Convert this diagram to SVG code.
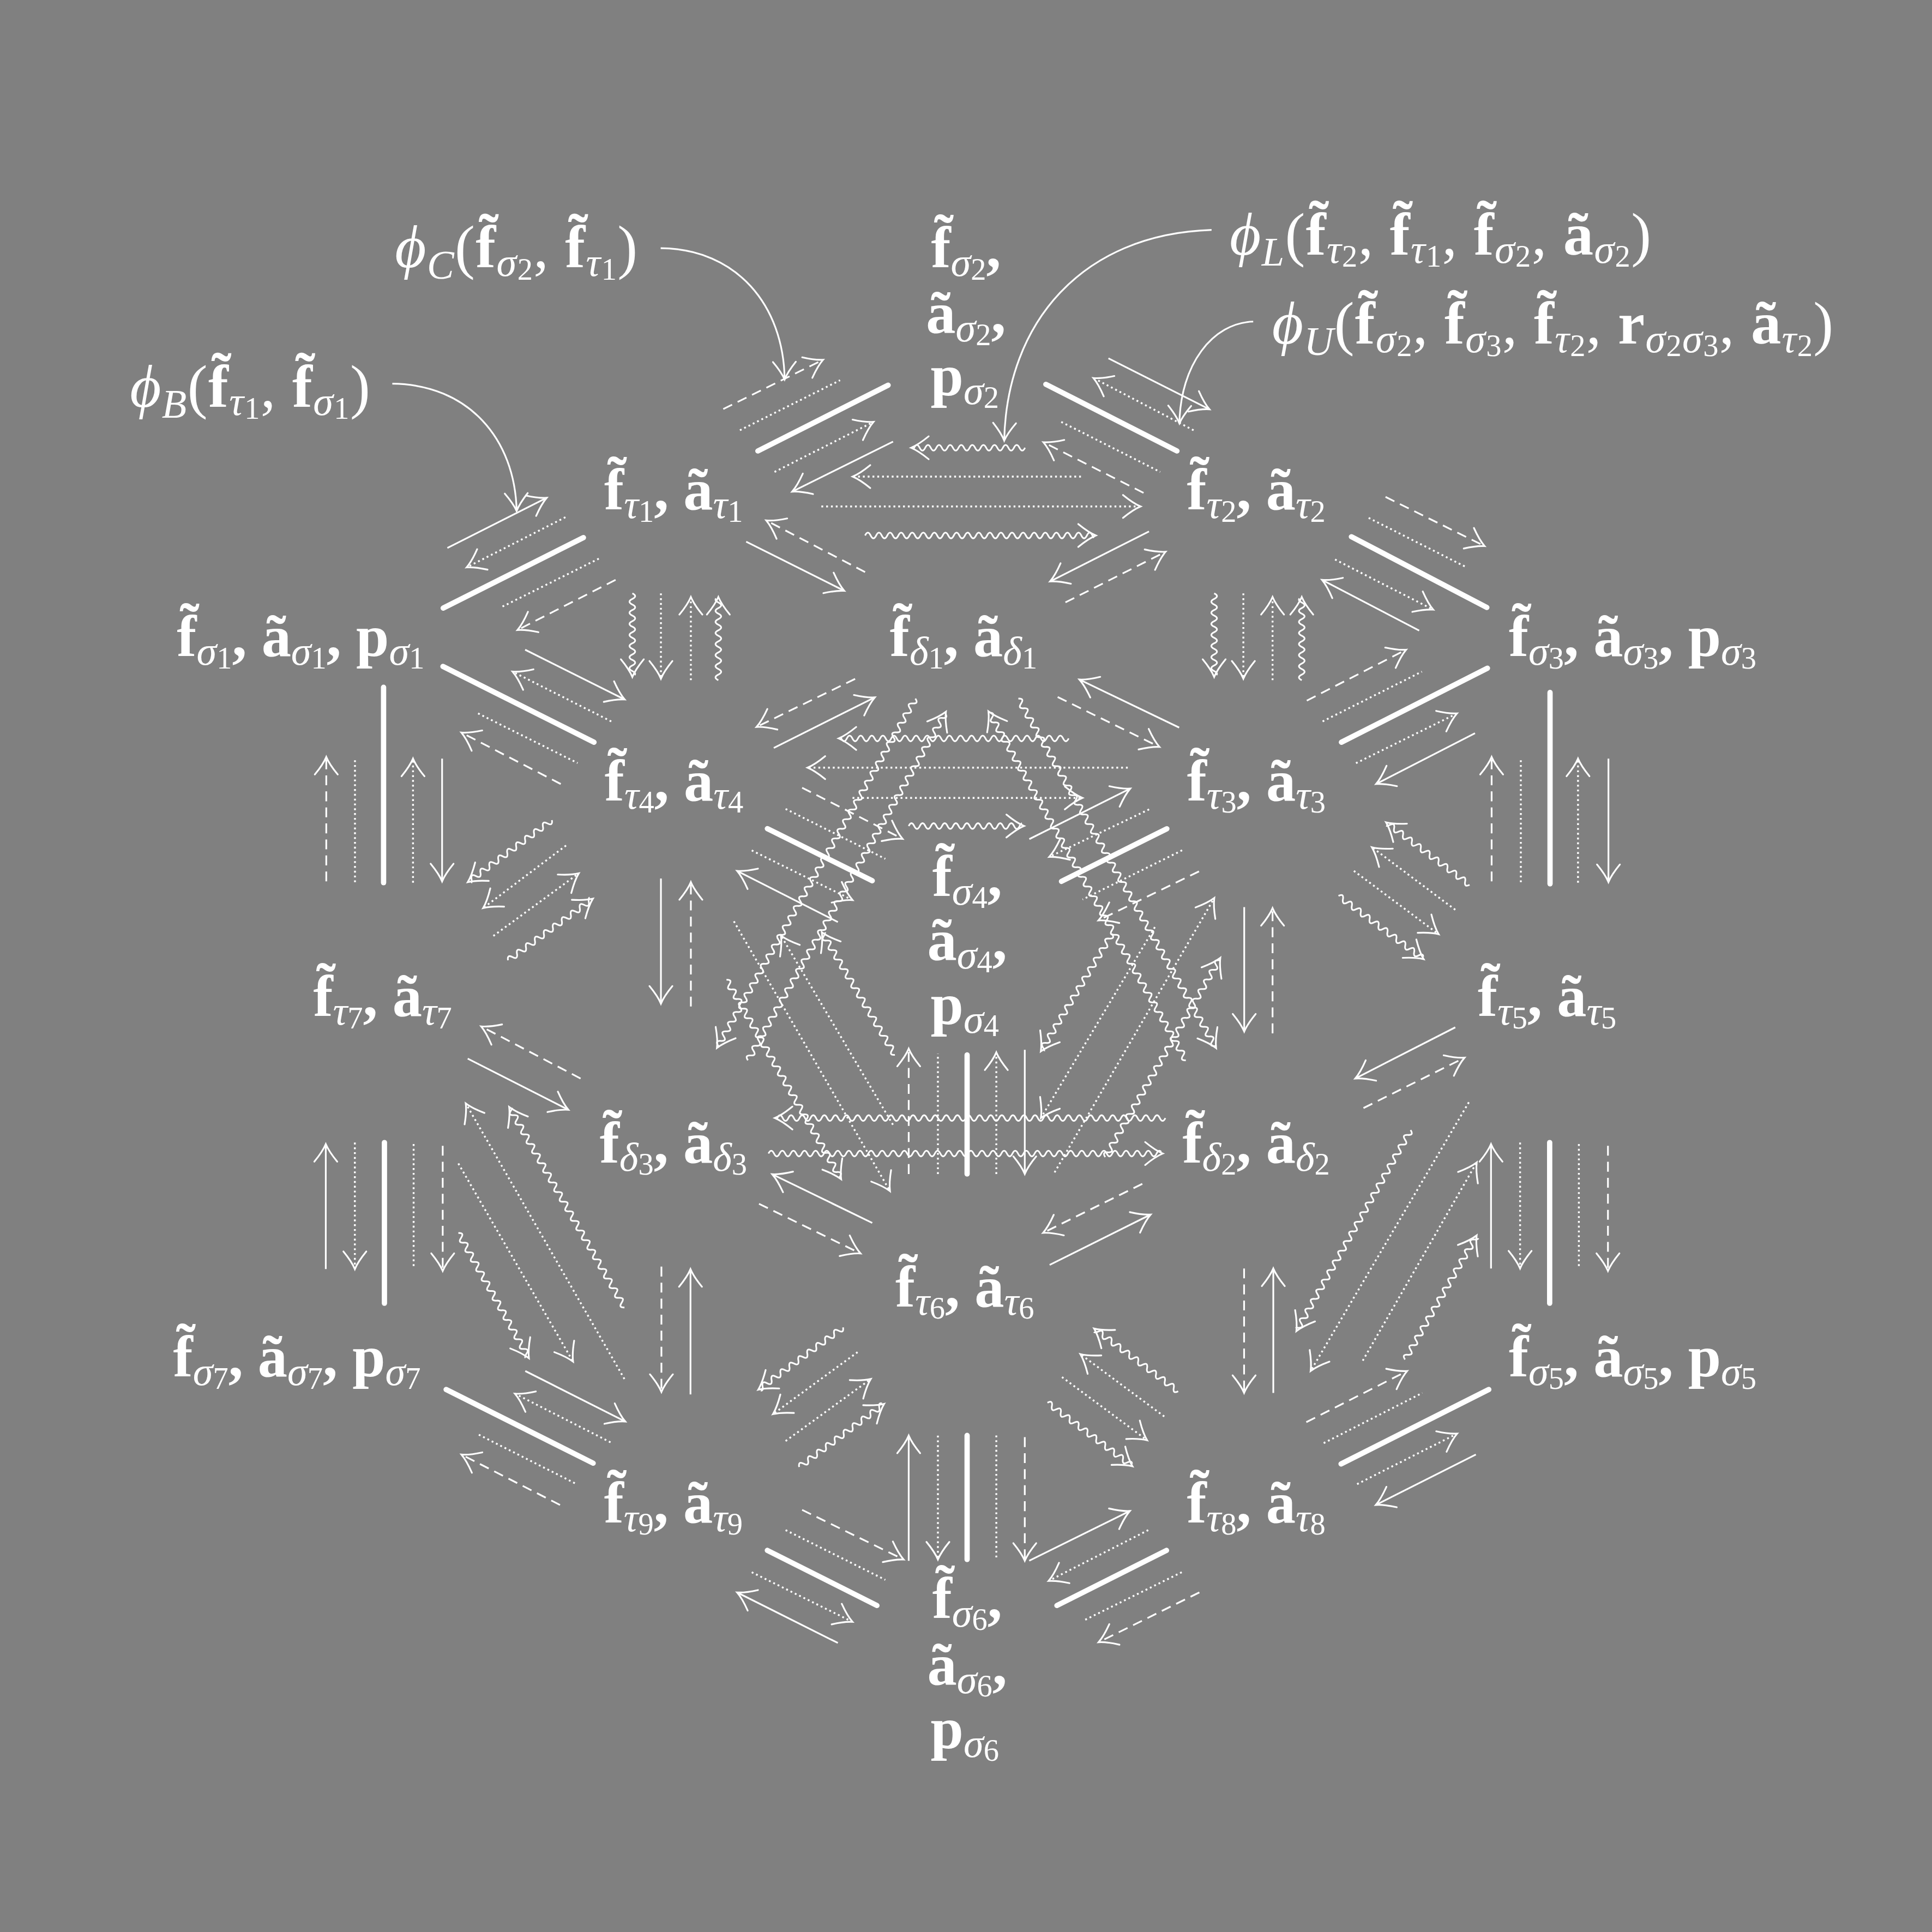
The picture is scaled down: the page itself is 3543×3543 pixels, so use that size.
<svg xmlns="http://www.w3.org/2000/svg" width="3543" height="3543" viewBox="0 0 3543 3543">
<style>
line,.cv{fill:none;stroke:#fff}
.s,.sa{stroke-width:1.4}
.d,.da{stroke-width:1.4;stroke-dasharray:8 5}
.o,.oa{stroke-width:1.5;stroke-dasharray:1.5 2.4}
.t{stroke-width:4.3;stroke-linecap:round}
.cv{stroke-width:1.4}
.sa,.da,.oa,.cv{marker-end:url(#ah)}
text{fill:#fff;font-family:"Liberation Serif","DejaVu Serif",serif}
.lb{font-weight:bold;font-size:48px;text-anchor:middle}
.ph{font-weight:normal;font-size:49px;letter-spacing:0.6px}
.bf{font-weight:bold}
.it{font-style:italic}
.sb{font-weight:normal;font-style:italic;font-size:33px}
.ss{font-weight:normal;font-style:normal;font-size:25px}
</style>
<defs>
<marker id="ah" markerUnits="userSpaceOnUse" orient="auto" overflow="visible" markerWidth="20" markerHeight="20" viewBox="-16 -10 20 20" refX="0" refY="0"><path d="M-14.3,-9.3 Q-6,-2.5 0,0 Q-6,2.5 -14.3,9.3" fill="none" stroke="#fff" stroke-width="1.4" stroke-linecap="round"/></marker>
<path id="hd" d="M-14.3,-9.3 Q-6,-2.5 0,0 Q-6,2.5 -14.3,9.3" fill="none" stroke="#fff" stroke-width="1.4" stroke-linecap="round"/>
<path id="wv" pathLength="342" fill="none" stroke="#fff" stroke-width="1.35" d="M0,0q2.25,-4.6 4.5,0t4.5,0t4.5,0t4.5,0t4.5,0t4.5,0t4.5,0t4.5,0t4.5,0t4.5,0t4.5,0t4.5,0t4.5,0t4.5,0t4.5,0t4.5,0t4.5,0t4.5,0t4.5,0t4.5,0t4.5,0t4.5,0t4.5,0t4.5,0t4.5,0t4.5,0t4.5,0t4.5,0t4.5,0t4.5,0t4.5,0t4.5,0t4.5,0t4.5,0t4.5,0t4.5,0t4.5,0t4.5,0t4.5,0t4.5,0t4.5,0t4.5,0t4.5,0t4.5,0t4.5,0t4.5,0t4.5,0t4.5,0t4.5,0t4.5,0t4.5,0t4.5,0t4.5,0t4.5,0t4.5,0t4.5,0t4.5,0t4.5,0t4.5,0t4.5,0t4.5,0t4.5,0t4.5,0t4.5,0t4.5,0t4.5,0t4.5,0t4.5,0t4.5,0t4.5,0t4.5,0t4.5,0t4.5,0t4.5,0t4.5,0t4.5,0"/>
</defs>
<rect width="3543" height="3543" fill="#808080"/>
<g transform="scale(2.25957)">
<g id="connectors">
<line class="da" x1="587" y1="332" x2="668" y2="292"/>
<line class="o" x1="600.5" y1="349.2" x2="681.8" y2="308.6"/>
<line class="t" x1="615.1" y1="366" x2="720.8" y2="312.6"/>
<line class="oa" x1="628.6" y1="383" x2="708.9" y2="342.4"/>
<line class="sa" x1="724.8" y1="358.4" x2="642.9" y2="399"/>
<line class="sa" x1="899.6" y1="290.8" x2="981.6" y2="332.2"/>
<line class="oa" x1="968.7" y1="349.2" x2="887.4" y2="306.8"/>
<line class="t" x1="848.8" y1="311.9" x2="955.2" y2="366"/>
<line class="o" x1="861.3" y1="342.4" x2="941.6" y2="383"/>
<line class="da" x1="928.1" y1="400" x2="846.8" y2="358.9"/>
<line class="oa" x1="877.3" y1="386.8" x2="692" y2="386.8"/>
<line class="oa" x1="666.6" y1="411" x2="925.7" y2="411"/>
<line class="da" x1="702.1" y1="464.3" x2="621.9" y2="422.4"/>
<line class="sa" x1="605.6" y1="439.6" x2="685.2" y2="479.5"/>
<line class="sa" x1="932.5" y1="431.3" x2="852.2" y2="471.9"/>
<line class="da" x1="864.7" y1="488.9" x2="946" y2="447.8"/>
<line class="sa" x1="363.1" y1="444.7" x2="443.7" y2="404"/>
<line class="oa" x1="458.9" y1="419.8" x2="378.7" y2="460.5"/>
<line class="t" x1="473.5" y1="436.3" x2="359.7" y2="493.5"/>
<line class="o" x1="486" y1="453.4" x2="406.4" y2="493"/>
<line class="da" x1="499.6" y1="470.6" x2="420" y2="511.3"/>
<line class="t" x1="359.5" y1="540.9" x2="482.1" y2="602.4"/>
<line class="oa" x1="496.1" y1="585.5" x2="416" y2="545.1"/>
<line class="sa" x1="426.2" y1="527.3" x2="507" y2="567.7"/>
<line class="o" x1="388" y1="579" x2="468.8" y2="619.3"/>
<line class="da" x1="455.1" y1="636.3" x2="374.4" y2="594.5"/>
<line class="oa" x1="536.4" y1="481.6" x2="536.4" y2="550.8"/>
<line class="oa" x1="560.7" y1="552" x2="560.7" y2="484.5"/>
<line class="oa" x1="1009.1" y1="481.6" x2="1009.1" y2="550.8"/>
<line class="oa" x1="1032.8" y1="552" x2="1032.8" y2="484.5"/>
<line class="da" x1="1124.5" y1="403.3" x2="1204.9" y2="443.2"/>
<line class="o" x1="1110.8" y1="420.3" x2="1190.4" y2="460.5"/>
<line class="t" x1="1096.8" y1="435.6" x2="1206.7" y2="493"/>
<line class="oa" x1="1083.5" y1="454.1" x2="1163.2" y2="494.8"/>
<line class="sa" x1="1151.8" y1="511.8" x2="1072.9" y2="470.6"/>
<line class="da" x1="1060.6" y1="568.6" x2="1141.2" y2="527.3"/>
<line class="o" x1="1073.4" y1="585.5" x2="1154" y2="545.1"/>
<line class="t" x1="1088.7" y1="602.4" x2="1207.2" y2="542.3"/>
<line class="oa" x1="1100.5" y1="619.4" x2="1182.5" y2="579"/>
<line class="sa" x1="1197.1" y1="595.1" x2="1116.8" y2="636.3"/>
<line class="da" x1="264.8" y1="715.3" x2="264.8" y2="614.3"/>
<line class="o" x1="288.1" y1="716" x2="288.1" y2="615"/>
<line class="t" x1="311.3" y1="557.8" x2="311.3" y2="716.4"/>
<line class="oa" x1="335.2" y1="716.4" x2="335.2" y2="615.7"/>
<line class="sa" x1="358.8" y1="615.7" x2="358.8" y2="715.3"/>
<line class="da" x1="1210.6" y1="715.3" x2="1210.6" y2="614.3"/>
<line class="o" x1="1234.3" y1="716" x2="1234.3" y2="615"/>
<line class="t" x1="1258" y1="562" x2="1258" y2="717.3"/>
<line class="oa" x1="1280.7" y1="716.4" x2="1280.7" y2="615.7"/>
<line class="sa" x1="1305.4" y1="615.7" x2="1305.4" y2="715.9"/>
<line class="oa" x1="459.4" y1="686.2" x2="392.1" y2="737"/>
<line class="oa" x1="400.4" y1="759.6" x2="469.7" y2="708.8"/>
<line class="oa" x1="1181.1" y1="738.4" x2="1113.4" y2="687.6"/>
<line class="oa" x1="1098.8" y1="706.8" x2="1167.6" y2="758.2"/>
<line class="sa" x1="536.4" y1="713" x2="536.4" y2="814.6"/>
<line class="da" x1="560.7" y1="816.9" x2="560.7" y2="715.9"/>
<line class="sa" x1="1009.8" y1="736.2" x2="1009.8" y2="837.2"/>
<line class="da" x1="1032.8" y1="838.6" x2="1032.8" y2="737"/>
<line class="sa" x1="1181.1" y1="833.8" x2="1099.9" y2="875.3"/>
<line class="da" x1="1106.6" y1="899.3" x2="1188.6" y2="858.4"/>
<line class="da" x1="471.2" y1="875.3" x2="390.5" y2="833"/>
<line class="sa" x1="379.6" y1="859.2" x2="461.3" y2="900.7"/>
<line class="sa" x1="264.4" y1="1030" x2="264.4" y2="928.5"/>
<line class="oa" x1="288" y1="927.3" x2="288" y2="1030"/>
<line class="t" x1="312" y1="927.3" x2="312" y2="1057.7"/>
<line class="o" x1="335.7" y1="928.5" x2="335.7" y2="1029.5"/>
<line class="da" x1="359.3" y1="929.9" x2="359.3" y2="1031.5"/>
<line class="sa" x1="1210.1" y1="1029.5" x2="1210.1" y2="928.5"/>
<line class="oa" x1="1233.7" y1="927.3" x2="1233.7" y2="1029.5"/>
<line class="t" x1="1257.7" y1="927.3" x2="1257.7" y2="1057.7"/>
<line class="o" x1="1281.4" y1="928.5" x2="1281.4" y2="1029.5"/>
<line class="da" x1="1305" y1="929.9" x2="1305" y2="1031.5"/>
<line class="oa" x1="506.8" y1="1119.2" x2="378" y2="895.5"/>
<line class="oa" x1="372" y1="944.3" x2="465.1" y2="1105.1"/>
<line class="oa" x1="1192.1" y1="894.6" x2="1063.7" y2="1112.7"/>
<line class="oa" x1="1106" y1="1104.3" x2="1198.5" y2="943.4"/>
<line class="da" x1="536.8" y1="1028" x2="536.8" y2="1129.7"/>
<line class="sa" x1="560.4" y1="1131.7" x2="560.4" y2="1030"/>
<line class="da" x1="1009.7" y1="1029.5" x2="1009.7" y2="1130.5"/>
<line class="sa" x1="1033.4" y1="1130.5" x2="1033.4" y2="1029.5"/>
<line class="sa" x1="426.3" y1="1112.7" x2="507.5" y2="1153.7"/>
<line class="oa" x1="495.5" y1="1170.6" x2="417.9" y2="1131.1"/>
<line class="t" x1="362.1" y1="1127.7" x2="481.4" y2="1187.5"/>
<line class="o" x1="388.6" y1="1164.4" x2="468" y2="1204.5"/>
<line class="da" x1="454.5" y1="1221.4" x2="374.5" y2="1180.5"/>
<line class="da" x1="1060.2" y1="1154.2" x2="1142" y2="1112.7"/>
<line class="o" x1="1074.3" y1="1171.2" x2="1154.4" y2="1130.5"/>
<line class="t" x1="1088.4" y1="1188.1" x2="1208.3" y2="1127.7"/>
<line class="oa" x1="1101.4" y1="1204.5" x2="1182.6" y2="1163.5"/>
<line class="sa" x1="1197.8" y1="1180.5" x2="1116.6" y2="1221.4"/>
<line class="sa" x1="707.9" y1="992.5" x2="626.7" y2="953"/>
<line class="da" x1="616" y1="977" x2="698.4" y2="1017.3"/>
<line class="da" x1="927.1" y1="960.8" x2="846.5" y2="1000.6"/>
<line class="sa" x1="851.9" y1="1026.6" x2="933.9" y2="985.7"/>
<line class="oa" x1="696" y1="1097.4" x2="627.3" y2="1147.7"/>
<line class="oa" x1="637.6" y1="1169.5" x2="706.7" y2="1119.2"/>
<line class="oa" x1="944.9" y1="1149.6" x2="876.8" y2="1099"/>
<line class="oa" x1="861.9" y1="1117.6" x2="931" y2="1168.9"/>
<line class="sa" x1="737.5" y1="1266.7" x2="737.5" y2="1165.1"/>
<line class="oa" x1="761.2" y1="1165.1" x2="761.2" y2="1265.7"/>
<line class="t" x1="784.9" y1="1165" x2="784.9" y2="1265.7"/>
<line class="o" x1="808.6" y1="1165" x2="808.6" y2="1265.7"/>
<line class="da" x1="831.7" y1="1166.4" x2="831.7" y2="1266.7"/>
<line class="da" x1="651" y1="1225.4" x2="733.4" y2="1265.7"/>
<line class="o" x1="637.6" y1="1241.8" x2="718.5" y2="1282.2"/>
<line class="t" x1="622.8" y1="1258.3" x2="711.7" y2="1303"/>
<line class="oa" x1="610.1" y1="1276" x2="691.9" y2="1316.3"/>
<line class="sa" x1="680" y1="1333.4" x2="598.2" y2="1292.4"/>
<line class="sa" x1="835.3" y1="1266.7" x2="917" y2="1226.3"/>
<line class="oa" x1="931.9" y1="1241.8" x2="851" y2="1283.1"/>
<line class="t" x1="946.7" y1="1258.3" x2="857.8" y2="1303"/>
<line class="o" x1="959.1" y1="1276" x2="879.1" y2="1315.4"/>
<line class="da" x1="973.4" y1="1292.4" x2="891.6" y2="1332.8"/>
<line class="da" x1="694" y1="551" x2="614" y2="590"/>
<line class="sa" x1="628" y1="607" x2="710" y2="566"/>
<line class="sa" x1="957" y1="590.5" x2="876" y2="551.5"/>
<line class="da" x1="858.4" y1="565.7" x2="941" y2="606.2"/>
<line class="oa" x1="915.3" y1="623" x2="655.4" y2="623"/>
<line class="oa" x1="691.9" y1="647.6" x2="878.5" y2="647.6"/>
<line class="da" x1="651" y1="639.3" x2="732.5" y2="680.8"/>
<line class="o" x1="637.6" y1="656.5" x2="718.5" y2="697"/>
<line class="t" x1="622.8" y1="672.5" x2="707.9" y2="714.8"/>
<line class="oa" x1="610.1" y1="690.2" x2="691.9" y2="730.5"/>
<line class="sa" x1="680" y1="748.3" x2="598.2" y2="706.8"/>
<line class="sa" x1="835.4" y1="681" x2="917.3" y2="640"/>
<line class="oa" x1="932.6" y1="656.9" x2="851.5" y2="695.5"/>
<line class="t" x1="947" y1="672.6" x2="861.5" y2="715.3"/>
<line class="o" x1="959.4" y1="690.1" x2="878.6" y2="730"/>
<line class="da" x1="973.1" y1="707.2" x2="891.5" y2="747"/>
<line class="oa" x1="595.6" y1="747.7" x2="722.3" y2="966.7"/>
<line class="oa" x1="724.7" y1="912.8" x2="633.8" y2="759.3"/>
<line class="oa" x1="937.3" y1="752.4" x2="844.8" y2="907.3"/>
<line class="oa" x1="855.9" y1="951.5" x2="985.5" y2="728.8"/>
<line class="da" x1="737.5" y1="952.8" x2="737.5" y2="851.1"/>
<line class="o" x1="761.2" y1="952.8" x2="761.2" y2="855"/>
<line class="t" x1="784.9" y1="952.8" x2="784.9" y2="856.2"/>
<line class="oa" x1="808.6" y1="952.8" x2="808.6" y2="854.1"/>
<line class="sa" x1="831.7" y1="852" x2="831.7" y2="952.8"/>
<path class="cv" d="M536.2,201.4 C598,202 636,248 636.8,308"/>
<path class="cv" d="M318.4,311.4 C380,312 418,356 419.3,414.7"/>
<path class="cv" d="M983.3,186.6 C878,190 817,262 815,357.6"/>
<path class="cv" d="M1017.1,261 C984,262 958,296 957.2,343.6"/>
<g transform="translate(831.9 363.4) rotate(180)"><use href="#wv" style="stroke-dasharray:91 999"/><use href="#hd" x="92.5"/></g>
<g transform="translate(702.1 434.6)"><use href="#wv" style="stroke-dasharray:186 999"/><use href="#hd" x="187.3"/></g>
<g transform="translate(513.2 481.6) rotate(90)"><use href="#wv" style="stroke-dasharray:66 999"/><use href="#hd" x="67.8"/></g>
<g transform="translate(583 552) rotate(-90)"><use href="#wv" style="stroke-dasharray:66 999"/><use href="#hd" x="67.5"/></g>
<g transform="translate(985.4 481.6) rotate(90)"><use href="#wv" style="stroke-dasharray:66 999"/><use href="#hd" x="67.8"/></g>
<g transform="translate(1056.5 552) rotate(-90)"><use href="#wv" style="stroke-dasharray:66 999"/><use href="#hd" x="67.5"/></g>
<g transform="translate(447.9 665.6) rotate(143.6)"><use href="#wv" style="stroke-dasharray:83 999"/><use href="#hd" x="84.8"/></g>
<g transform="translate(412.3 779.4) rotate(-36)"><use href="#wv" style="stroke-dasharray:83.5 999"/><use href="#hd" x="85.1"/></g>
<g transform="translate(1192.7 718.1) rotate(-143.2)"><use href="#wv" style="stroke-dasharray:83 999"/><use href="#hd" x="84.7"/></g>
<g transform="translate(1086.3 727.1) rotate(36.6)"><use href="#wv" style="stroke-dasharray:84.5 999"/><use href="#hd" x="86.1"/></g>
<g transform="translate(867.3 599.3) rotate(180)"><use href="#wv" style="stroke-dasharray:185 999"/><use href="#hd" x="186.7"/></g>
<g transform="translate(737.5 670.4)"><use href="#wv" style="stroke-dasharray:92 999"/><use href="#hd" x="93.6"/></g>
<g transform="translate(742.9 567) rotate(119.6)"><use href="#wv" style="stroke-dasharray:324.5 999"/><use href="#hd" x="326"/></g>
<g transform="translate(607 860.5) rotate(-60.4)"><use href="#wv" style="stroke-dasharray:323.5 999"/><use href="#hd" x="325.3"/></g>
<g transform="translate(826.5 567) rotate(60.5)"><use href="#wv" style="stroke-dasharray:324.5 999"/><use href="#hd" x="325.9"/></g>
<g transform="translate(962.4 860.5) rotate(-119.5)"><use href="#wv" style="stroke-dasharray:323.5 999"/><use href="#hd" x="325.3"/></g>
<g transform="translate(589.6 795.2) rotate(60.1)"><use href="#wv" style="stroke-dasharray:185 999"/><use href="#hd" x="186.7"/></g>
<g transform="translate(726.3 856.1) rotate(-120.8)"><use href="#wv" style="stroke-dasharray:114.5 999"/><use href="#hd" x="115.9"/></g>
<g transform="translate(902.5 757.9) rotate(121.2)"><use href="#wv" style="stroke-dasharray:110 999"/><use href="#hd" x="111.5"/></g>
<g transform="translate(897 939.1) rotate(-60)"><use href="#wv" style="stroke-dasharray:185 999"/><use href="#hd" x="186.8"/></g>
<g transform="translate(945.8 907.4) rotate(180)"><use href="#wv" style="stroke-dasharray:315.5 999"/><use href="#hd" x="317"/></g>
<g transform="translate(623.7 936.2)"><use href="#wv" style="stroke-dasharray:318.5 999"/><use href="#hd" x="320"/></g>
<g transform="translate(506.8 1061.1) rotate(-119.9)"><use href="#wv" style="stroke-dasharray:186 999"/><use href="#hd" x="187.7"/></g>
<g transform="translate(372 1000.7) rotate(60.6)"><use href="#wv" style="stroke-dasharray:115 999"/><use href="#hd" x="116.6"/></g>
<g transform="translate(1144.8 917.2) rotate(119.6)"><use href="#wv" style="stroke-dasharray:186 999"/><use href="#hd" x="187.6"/></g>
<g transform="translate(1140.3 1103.4) rotate(-60)"><use href="#wv" style="stroke-dasharray:115 999"/><use href="#hd" x="116.3"/></g>
<g transform="translate(684.2 1077.3) rotate(143.7)"><use href="#wv" style="stroke-dasharray:84 999"/><use href="#hd" x="85.4"/></g>
<g transform="translate(648.6 1190.6) rotate(-36.6)"><use href="#wv" style="stroke-dasharray:84.5 999"/><use href="#hd" x="85.9"/></g>
<g transform="translate(956.2 1129.1) rotate(-143.3)"><use href="#wv" style="stroke-dasharray:83.5 999"/><use href="#hd" x="85.1"/></g>
<g transform="translate(850.1 1138.4) rotate(36.8)"><use href="#wv" style="stroke-dasharray:84.5 999"/><use href="#hd" x="86.2"/></g>
</g>
<g id="ann-phiC"><text class="ph" x="518" y="217" text-anchor="end"><tspan class="it">ϕ</tspan><tspan class="sb" dy="9">C</tspan><tspan dy="-9">(</tspan><tspan class="bf">f̃</tspan><tspan class="sb" dy="7">σ</tspan><tspan class="ss" dy="3">2</tspan><tspan dy="-10">, </tspan><tspan class="bf">f̃</tspan><tspan class="sb" dy="7">τ</tspan><tspan class="ss" dy="3">1</tspan><tspan dy="-10">)</tspan></text></g>
<g id="ann-phiB"><text class="ph" x="301" y="330" text-anchor="end"><tspan class="it">ϕ</tspan><tspan class="sb" dy="9">B</tspan><tspan dy="-9">(</tspan><tspan class="bf">f̃</tspan><tspan class="sb" dy="7">τ</tspan><tspan class="ss" dy="3">1</tspan><tspan dy="-10">, </tspan><tspan class="bf">f̃</tspan><tspan class="sb" dy="7">σ</tspan><tspan class="ss" dy="3">1</tspan><tspan dy="-10">)</tspan></text></g>
<g id="ann-phiL"><text class="ph" x="998" y="206.5"><tspan class="it">ϕ</tspan><tspan class="sb" dy="9">L</tspan><tspan dy="-9">(</tspan><tspan class="bf">f̃</tspan><tspan class="sb" dy="7">τ</tspan><tspan class="ss" dy="3">2</tspan><tspan dy="-10">, </tspan><tspan class="bf">f̃</tspan><tspan class="sb" dy="7">τ</tspan><tspan class="ss" dy="3">1</tspan><tspan dy="-10">, </tspan><tspan class="bf">f̃</tspan><tspan class="sb" dy="7">σ</tspan><tspan class="ss" dy="3">2</tspan><tspan dy="-10">, </tspan><tspan class="bf">ã</tspan><tspan class="sb" dy="7">σ</tspan><tspan class="ss" dy="3">2</tspan><tspan dy="-10">)</tspan></text></g>
<g id="ann-phiU"><text class="ph" x="1032.4" y="279"><tspan class="it">ϕ</tspan><tspan class="sb" dy="9">U</tspan><tspan dy="-9">(</tspan><tspan class="bf">f̃</tspan><tspan class="sb" dy="7">σ</tspan><tspan class="ss" dy="3">2</tspan><tspan dy="-10">, </tspan><tspan class="bf">f̃</tspan><tspan class="sb" dy="7">σ</tspan><tspan class="ss" dy="3">3</tspan><tspan dy="-10">, </tspan><tspan class="bf">f̃</tspan><tspan class="sb" dy="7">τ</tspan><tspan class="ss" dy="3">2</tspan><tspan dy="-10">, </tspan><tspan class="bf">r</tspan><tspan class="sb" dy="7">σ</tspan><tspan class="ss" dy="3">2</tspan><tspan class="sb" dy="-3">σ</tspan><tspan class="ss" dy="3">3</tspan><tspan dy="-10">, </tspan><tspan class="bf">ã</tspan><tspan class="sb" dy="7">τ</tspan><tspan class="ss" dy="3">2</tspan><tspan dy="-10">)</tspan></text></g>
<g id="n-sigma2"><text class="lb" x="784" y="217">f̃<tspan class="sb" dy="7">σ</tspan><tspan class="ss" dy="3">2</tspan><tspan dy="-10">,</tspan></text><text class="lb" x="784" y="270">ã<tspan class="sb" dy="7">σ</tspan><tspan class="ss" dy="3">2</tspan><tspan dy="-10">,</tspan></text><text class="lb" x="783" y="321">p<tspan class="sb" dy="7">σ</tspan><tspan class="ss" dy="3">2</tspan></text></g>
<g id="n-tau1"><text class="lb" x="546.7" y="413.5">f̃<tspan class="sb" dy="7">τ</tspan><tspan class="ss" dy="3">1</tspan><tspan dy="-10">, ã</tspan><tspan class="sb" dy="7">τ</tspan><tspan class="ss" dy="3">1</tspan></text></g>
<g id="n-tau2"><text class="lb" x="1019.5" y="413.5">f̃<tspan class="sb" dy="7">τ</tspan><tspan class="ss" dy="3">2</tspan><tspan dy="-10">, ã</tspan><tspan class="sb" dy="7">τ</tspan><tspan class="ss" dy="3">2</tspan></text></g>
<g id="n-sigma1"><text class="lb" x="244" y="532.4">f̃<tspan class="sb" dy="7">σ</tspan><tspan class="ss" dy="3">1</tspan><tspan dy="-10">, ã</tspan><tspan class="sb" dy="7">σ</tspan><tspan class="ss" dy="3">1</tspan><tspan dy="-10">, p</tspan><tspan class="sb" dy="7">σ</tspan><tspan class="ss" dy="3">1</tspan></text></g>
<g id="n-delta1"><text class="lb" x="782" y="532.6">f̃<tspan class="sb" dy="7">δ</tspan><tspan class="ss" dy="3">1</tspan><tspan dy="-10">, ã</tspan><tspan class="sb" dy="7">δ</tspan><tspan class="ss" dy="3">1</tspan></text></g>
<g id="n-sigma3"><text class="lb" x="1325" y="532.4">f̃<tspan class="sb" dy="7">σ</tspan><tspan class="ss" dy="3">3</tspan><tspan dy="-10">, ã</tspan><tspan class="sb" dy="7">σ</tspan><tspan class="ss" dy="3">3</tspan><tspan dy="-10">, p</tspan><tspan class="sb" dy="7">σ</tspan><tspan class="ss" dy="3">3</tspan></text></g>
<g id="n-tau4"><text class="lb" x="547" y="649.5">f̃<tspan class="sb" dy="7">τ</tspan><tspan class="ss" dy="3">4</tspan><tspan dy="-10">, ã</tspan><tspan class="sb" dy="7">τ</tspan><tspan class="ss" dy="3">4</tspan></text></g>
<g id="n-tau3"><text class="lb" x="1019.6" y="649.5">f̃<tspan class="sb" dy="7">τ</tspan><tspan class="ss" dy="3">3</tspan><tspan dy="-10">, ã</tspan><tspan class="sb" dy="7">τ</tspan><tspan class="ss" dy="3">3</tspan></text></g>
<g id="n-sigma4"><text class="lb" x="785" y="727">f̃<tspan class="sb" dy="7">σ</tspan><tspan class="ss" dy="3">4</tspan><tspan dy="-10">,</tspan></text><text class="lb" x="785" y="779">ã<tspan class="sb" dy="7">σ</tspan><tspan class="ss" dy="3">4</tspan><tspan dy="-10">,</tspan></text><text class="lb" x="783" y="831">p<tspan class="sb" dy="7">σ</tspan><tspan class="ss" dy="3">4</tspan></text></g>
<g id="n-tau7"><text class="lb" x="310.5" y="824.5">f̃<tspan class="sb" dy="7">τ</tspan><tspan class="ss" dy="3">7</tspan><tspan dy="-10">, ã</tspan><tspan class="sb" dy="7">τ</tspan><tspan class="ss" dy="3">7</tspan></text></g>
<g id="n-tau5"><text class="lb" x="1255.6" y="824.5">f̃<tspan class="sb" dy="7">τ</tspan><tspan class="ss" dy="3">5</tspan><tspan dy="-10">, ã</tspan><tspan class="sb" dy="7">τ</tspan><tspan class="ss" dy="3">5</tspan></text></g>
<g id="n-delta3"><text class="lb" x="546.5" y="943.4">f̃<tspan class="sb" dy="7">δ</tspan><tspan class="ss" dy="3">3</tspan><tspan dy="-10">, ã</tspan><tspan class="sb" dy="7">δ</tspan><tspan class="ss" dy="3">3</tspan></text></g>
<g id="n-delta2"><text class="lb" x="1019.5" y="943.4">f̃<tspan class="sb" dy="7">δ</tspan><tspan class="ss" dy="3">2</tspan><tspan dy="-10">, ã</tspan><tspan class="sb" dy="7">δ</tspan><tspan class="ss" dy="3">2</tspan></text></g>
<g id="n-tau6"><text class="lb" x="783" y="1060.2">f̃<tspan class="sb" dy="7">τ</tspan><tspan class="ss" dy="3">6</tspan><tspan dy="-10">, ã</tspan><tspan class="sb" dy="7">τ</tspan><tspan class="ss" dy="3">6</tspan></text></g>
<g id="n-sigma7"><text class="lb" x="241" y="1117">f̃<tspan class="sb" dy="7">σ</tspan><tspan class="ss" dy="3">7</tspan><tspan dy="-10">, ã</tspan><tspan class="sb" dy="7">σ</tspan><tspan class="ss" dy="3">7</tspan><tspan dy="-10">, p</tspan><tspan class="sb" dy="7">σ</tspan><tspan class="ss" dy="3">7</tspan></text></g>
<g id="n-sigma5"><text class="lb" x="1325" y="1117">f̃<tspan class="sb" dy="7">σ</tspan><tspan class="ss" dy="3">5</tspan><tspan dy="-10">, ã</tspan><tspan class="sb" dy="7">σ</tspan><tspan class="ss" dy="3">5</tspan><tspan dy="-10">, p</tspan><tspan class="sb" dy="7">σ</tspan><tspan class="ss" dy="3">5</tspan></text></g>
<g id="n-tau9"><text class="lb" x="546.5" y="1235.5">f̃<tspan class="sb" dy="7">τ</tspan><tspan class="ss" dy="3">9</tspan><tspan dy="-10">, ã</tspan><tspan class="sb" dy="7">τ</tspan><tspan class="ss" dy="3">9</tspan></text></g>
<g id="n-tau8"><text class="lb" x="1019.5" y="1235.5">f̃<tspan class="sb" dy="7">τ</tspan><tspan class="ss" dy="3">8</tspan><tspan dy="-10">, ã</tspan><tspan class="sb" dy="7">τ</tspan><tspan class="ss" dy="3">8</tspan></text></g>
<g id="n-sigma6"><text class="lb" x="785" y="1313">f̃<tspan class="sb" dy="7">σ</tspan><tspan class="ss" dy="3">6</tspan><tspan dy="-10">,</tspan></text><text class="lb" x="785" y="1367">ã<tspan class="sb" dy="7">σ</tspan><tspan class="ss" dy="3">6</tspan><tspan dy="-10">,</tspan></text><text class="lb" x="783" y="1419">p<tspan class="sb" dy="7">σ</tspan><tspan class="ss" dy="3">6</tspan></text></g>
</g>
</svg>
